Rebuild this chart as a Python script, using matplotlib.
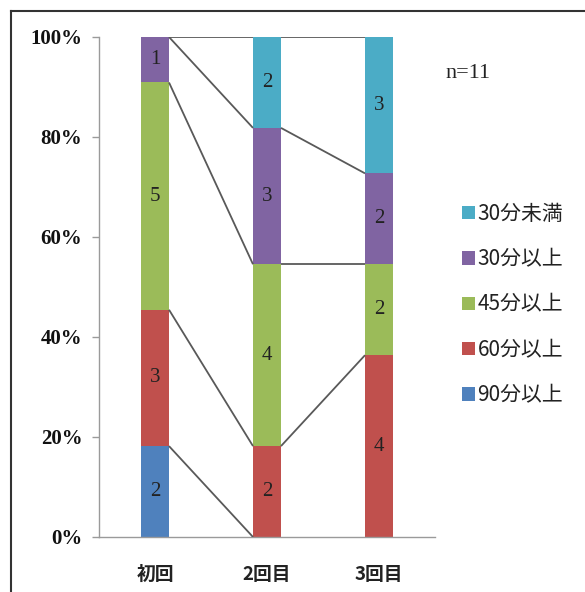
import matplotlib
matplotlib.use("Agg")
import matplotlib.pyplot as plt
from matplotlib.lines import Line2D
from matplotlib.patches import Patch
import numpy as np

categories = ["初回", "2回目", "3回目"]
series_names = ["90分以上", "60分以上", "45分以上", "30分以上", "30分未満"]
v90 = [2, 0, 0]
v60 = [3, 2, 4]
v45 = [5, 4, 2]
v30 = [1, 3, 2]
vlt30 = [0, 2, 3]
colors = ["#4F81BD", "#C0504D", "#9BBB59", "#8064A2", "#4BACC6"]
yticks = [0, 0.2, 0.4, 0.6, 0.8, 1.0]
ytick_labels = ["0%", "20%", "40%", "60%", "80%", "100%"]

data = np.array([v90, v60, v45, v30, vlt30], dtype=float)
total = data.sum(axis=0)
frac = data / total

W, H = 585, 592
fig = plt.figure(figsize=(W / 100, H / 100), dpi=100)
ax = fig.add_axes([99 / W, 1 - 537 / H, 336 / W, 500 / H])

x = np.arange(len(categories))
bw = 0.25
bottom = np.zeros(len(categories))
tops = []
for i, name in enumerate(series_names):
    ax.bar(x, frac[i], bw, bottom=bottom, color=colors[i], zorder=2, linewidth=0)
    for j in range(len(categories)):
        if data[i, j] > 0:
            ax.text(x[j], bottom[j] + frac[i, j] / 2, f"{int(data[i, j])}",
                    ha="center", va="center", fontsize=15,
                    family="Liberation Serif", color="#222222", zorder=4)
    bottom = bottom + frac[i]
    tops.append(bottom.copy())

# series lines
for i in range(len(series_names)):
    for j in range(len(categories) - 1):
        y0, y1 = tops[i][j], tops[i][j + 1]
        if y0 == 0 and y1 == 0:
            continue
        ax.plot([x[j] + bw / 2, x[j + 1] - bw / 2], [y0, y1],
                color="#595959", lw=1.3, zorder=3, solid_capstyle="butt")

ax.set_xlim(-0.5, 2.5)
ax.set_ylim(0, 1)
for s in ["top", "right"]:
    ax.spines[s].set_visible(False)
ax.spines["left"].set_color("#9a9a9a")
ax.spines["bottom"].set_color("#9a9a9a")
ax.spines["left"].set_linewidth(1.0)
ax.spines["bottom"].set_linewidth(1.0)

ax.set_yticks(yticks)
ax.set_yticklabels(ytick_labels, family="Liberation Serif", fontweight="bold",
                   fontsize=15, color="#111111")
ax.tick_params(axis="y", length=5, width=1, color="#9a9a9a", pad=7)
ax.set_xticks(x)
ax.set_xticklabels(categories, family="Noto Sans CJK JP", fontweight="bold",
                   fontsize=13.5, color="#222222")
ax.tick_params(axis="x", length=0, pad=20)

# n label
fig.text(445 / W, 1 - 73 / H, "n=11", ha="left", va="center",
         family="Liberation Serif", fontsize=16, color="#222222")

# legend
handles = [Patch(facecolor=colors[i], edgecolor="none") for i in range(4, -1, -1)]
labels = [series_names[i] for i in range(4, -1, -1)]
fig.legend(handles, labels, loc="upper left", bbox_to_anchor=(462 / W, 1 - 203 / H),
           frameon=False, handlelength=0.6, handleheight=0.6,
           handletextpad=0.15, labelspacing=1.12,
           prop={"family": "Noto Sans CJK JP", "size": 15},
           labelcolor="#222222", borderpad=0, borderaxespad=0)

# frame border (cut off on right and bottom)
fx = 11 / W
fy = 1 - 11 / H
fig.add_artist(Line2D([fx, fx], [0, fy], transform=fig.transFigure,
                      color="#333333", lw=1.5))
fig.add_artist(Line2D([fx, 1], [fy, fy], transform=fig.transFigure,
                      color="#333333", lw=1.5))

fig.savefig("out.png", dpi=100)
